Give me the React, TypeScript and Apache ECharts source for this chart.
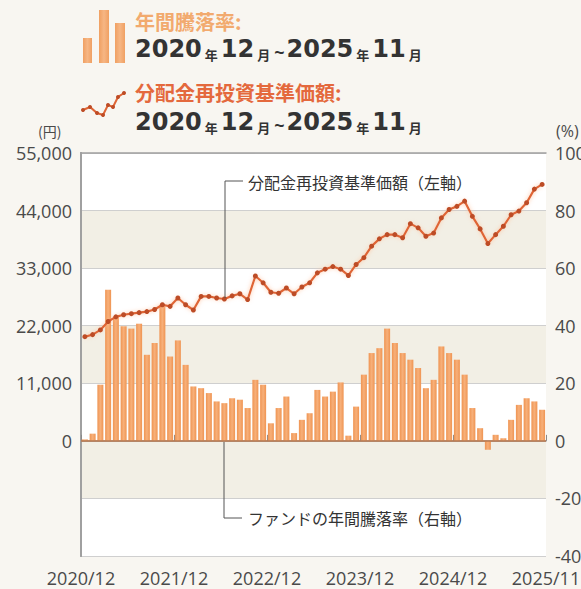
import React, { useEffect, useRef } from "react";
import * as echarts from "echarts";

// ---- data ----
const months: string[] = [];
for (let i = 0; i < 60; i++) {
  const m = 12 + i;
  const y = 2020 + Math.floor((m - 1) / 12);
  const mm = ((m - 1) % 12) + 1;
  months.push(`${y}/${mm}`);
}

const xTickLabels = ["2020/12", "2021/12", "2022/12", "2023/12", "2024/12", "2025/11"];

// fund annual return (%), right axis
const annualReturn = [
  0.5, 2.5, 19.5, 52.5, 43.2, 39.8, 39.0, 40.7, 29.9, 34.0, 47.3, 29.3,
  34.9, 26.4, 18.9, 18.3, 16.6, 13.7, 13.1, 14.8, 14.3, 11.4, 21.2, 19.5,
  6.1, 11.4, 15.4, 2.7, 7.3, 9.6, 17.7, 15.4, 17.1, 20.3, 1.8, 11.9,
  23.0, 30.5, 32.2, 39.0, 34.0, 30.5, 28.2, 25.3, 18.3, 21.2, 32.8, 30.5,
  28.2, 23.0, 11.4, 4.4, -3.1, 2.1, 0.9, 7.3, 12.5, 14.8, 13.7, 10.8,
];

// NAV with dividends reinvested (yen), left axis
const nav = [
  19900, 20300, 21200, 22800, 23700, 24100, 24300, 24500, 24700, 25100, 26000, 25700,
  27300, 26000, 25000, 27600, 27600, 27300, 27100, 27700, 28100, 27000, 31500, 30200,
  28400, 28200, 29200, 28100, 29400, 30200, 32100, 32800, 33300, 32800, 31600, 33700,
  35000, 37200, 38600, 39400, 39400, 38800, 41500, 40700, 39100, 39700, 42600, 44200,
  44800, 45800, 42900, 40500, 37700, 39400, 41000, 43200, 43900, 45500, 48100, 49000,
];

const FONT = "'Open Sans', 'Noto Sans CJK JP', sans-serif";
const CJK = "'Noto Sans CJK JP', sans-serif";

export default function App() {
  const ref = useRef<HTMLDivElement>(null);

  useEffect(() => {
    if (!ref.current) return;
    const chart = echarts.init(ref.current, undefined, { renderer: "svg" });

    const barGrad = new echarts.graphic.LinearGradient(0, 0, 1, 0, [
      { offset: 0, color: "#ef9452" },
      { offset: 0.5, color: "#f7b07a" },
      { offset: 1, color: "#ef9452" },
    ]);
    const iconGrad = new echarts.graphic.LinearGradient(0, 0, 1, 0, [
      { offset: 0, color: "#f0a062" },
      { offset: 0.5, color: "#f6b684" },
      { offset: 1, color: "#f0a062" },
    ]);

    const iconPts = [
      [83, 110], [90, 107], [97, 113], [103, 115], [108, 105], [113, 107], [118, 97], [124, 93],
    ];

    const rich = {
      d: { fontSize: 24, fontWeight: "bold", fontFamily: "'DejaVu Sans', sans-serif", fill: "#333333", color: "#333333", lineHeight: 28, verticalAlign: "bottom" },
      k: { fontSize: 13, fontWeight: "bold", fontFamily: CJK, fill: "#333333", color: "#333333", lineHeight: 20, verticalAlign: "bottom", padding: [0, 3, 0, 3] },
      t: { fontSize: 18, fontWeight: "bold", fontFamily: FONT, fill: "#333333", color: "#333333", lineHeight: 22, verticalAlign: "bottom", padding: [0, 2, 0, 1] },
    };
    const dateText = "{d|2020}{k|年}{d|12}{k|月}{t|~}{d|2025}{k|年}{d|11}{k|月}";

    const option: any = {
      animation: false,
      backgroundColor: "#f8f6f1",
      textStyle: { fontFamily: FONT },
      grid: {
        left: 81, right: 35, top: 153, bottom: 33,
        containLabel: false, outerBoundsMode: "none",
      },
      xAxis: [
        {
          type: "category", data: months, boundaryGap: true, position: "bottom",
          axisLine: { show: true, lineStyle: { color: "#a0a0a0", width: 1.5 } },
          axisTick: { show: false }, axisLabel: { show: false }, splitLine: { show: false },
        },
        {
          type: "value", min: 0, max: 60, interval: 12, position: "bottom",
          axisLine: { show: false },
          axisTick: { show: true, inside: true, length: 6, lineStyle: { color: "#8a8a8a" } },
          splitLine: { show: false },
          axisLabel: {
            formatter: (v: number) => xTickLabels[Math.round(v / 12)] ?? "",
            margin: 13, fontSize: 18, color: "#4a4a4a", showMinLabel: true, showMaxLabel: true,
          },
        },
        {
          type: "value", min: 0, max: 60, position: "top",
          axisLine: { show: true, lineStyle: { color: "#a0a0a0", width: 1.5 } },
          axisTick: { show: false }, axisLabel: { show: false }, splitLine: { show: false },
        },
      ],
      yAxis: [
        {
          type: "value", min: -22000, max: 55000, interval: 11000, position: "left",
          axisLine: { show: true, lineStyle: { color: "#a0a0a0", width: 2 } },
          axisTick: { show: false },
          splitLine: { show: true, lineStyle: { color: "#cfcfcf", width: 1 } },
          splitArea: { show: true, areaStyle: { color: ["#ffffff", "#f2efe5"] } },
          axisLabel: {
            formatter: (v: number) => (v < 0 ? "" : v.toLocaleString("en-US")),
            margin: 9, fontSize: 18, color: "#4a4a4a",
          },
        },
        {
          type: "value", min: -40, max: 100, interval: 20, position: "right",
          axisLine: { show: true, lineStyle: { color: "#a0a0a0", width: 2 } },
          axisTick: { show: false }, splitLine: { show: false },
          axisLabel: { margin: 9, fontSize: 18, color: "#4a4a4a" },
        },
      ],
      series: [
        {
          type: "bar", name: "ファンドの年間騰落率", xAxisIndex: 0, yAxisIndex: 1,
          data: annualReturn, barWidth: 6,
          itemStyle: { color: barGrad },
          markLine: {
            silent: true, symbol: ["none", "none"], label: { show: false },
            lineStyle: { color: "#b9784f", width: 1.5, type: "solid" },
            data: [{ yAxis: 0 }],
          },
        },
        {
          type: "line", name: "分配金再投資基準価額", xAxisIndex: 0, yAxisIndex: 0,
          data: nav, symbol: "circle", symbolSize: 5, showSymbol: true, z: 5,
          lineStyle: { color: "#df6535", width: 2.2, shadowColor: "rgba(255,190,150,0.9)", shadowBlur: 4 },
          itemStyle: { color: "#bd4c26" },
        },
      ],
      graphic: [
        { type: "rect", z: 100, shape: { x: 83, y: 38, width: 9, height: 25 }, style: { fill: iconGrad } },
        { type: "rect", z: 100, shape: { x: 99, y: 10, width: 10, height: 53 }, style: { fill: iconGrad } },
        { type: "rect", z: 100, shape: { x: 115, y: 23, width: 10, height: 40 }, style: { fill: iconGrad } },
        { type: "polyline", z: 100, shape: { points: iconPts }, style: { stroke: "#df6535", lineWidth: 2, fill: null } },
        ...iconPts.map((p) => ({ type: "circle", z: 101, shape: { cx: p[0], cy: p[1], r: 2 }, style: { fill: "#bd4c26" } })),
        { type: "text", z: 100, x: 135, y: 21, style: { text: "年間騰落率:", fontSize: 20, fontWeight: "bold", fontFamily: CJK, fill: "#f2aa6e", verticalAlign: "middle" } },
        { type: "text", z: 100, x: 135, y: 47, style: { text: dateText, rich, verticalAlign: "middle" } },
        { type: "text", z: 100, x: 135, y: 92, style: { text: "分配金再投資基準価額:", fontSize: 20, fontWeight: "bold", fontFamily: CJK, fill: "#e4693d", verticalAlign: "middle" } },
        { type: "text", z: 100, x: 135, y: 120, style: { text: dateText, rich, verticalAlign: "middle" } },
        { type: "text", z: 100, x: 38, y: 131, style: { text: "(円)", fontSize: 14, fontFamily: CJK, fill: "#4a4a4a", verticalAlign: "middle" } },
        { type: "text", z: 100, x: 556, y: 131, style: { text: "(%)", fontSize: 16, fontFamily: FONT, fill: "#4a4a4a", verticalAlign: "middle" } },
        // annotations
        { type: "polyline", z: 100, shape: { points: [[243, 181], [225, 181], [225, 298]] }, style: { stroke: "#555555", lineWidth: 1, fill: null } },
        { type: "text", z: 100, x: 248, y: 182, style: { text: "分配金再投資基準価額（左軸）", fontSize: 16, fontFamily: CJK, fill: "#333333", verticalAlign: "middle" } },
        { type: "polyline", z: 100, shape: { points: [[224, 442], [224, 518], [242, 518]] }, style: { stroke: "#555555", lineWidth: 1, fill: null } },
        { type: "text", z: 100, x: 248, y: 518, style: { text: "ファンドの年間騰落率（右軸）", fontSize: 16, fontFamily: CJK, fill: "#333333", verticalAlign: "middle" } },
      ],
    };

    chart.setOption(option);
    return () => chart.dispose();
  }, []);

  return (
    <div
      ref={ref}
      style={{ position: "fixed", left: 0, top: 0, width: 581, height: 589 }}
    />
  );
}
